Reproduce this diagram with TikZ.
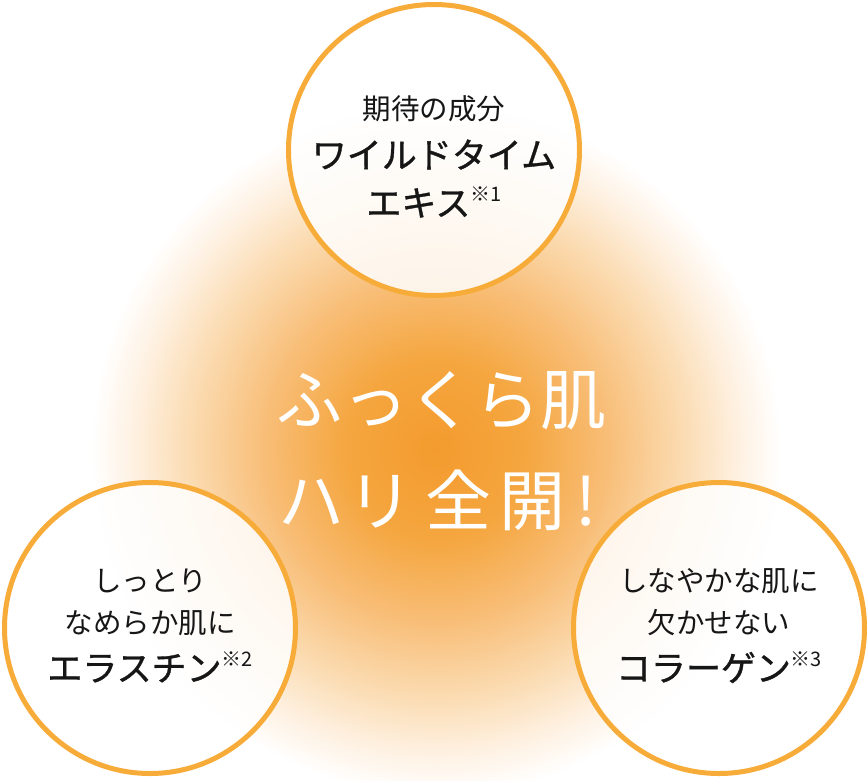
\documentclass[tikz,border=0pt]{standalone}
\usepackage{fontspec}
\setmainfont{Noto Sans CJK JP}
\newfontfamily\jpmid[FakeBold=1.0]{Noto Sans CJK JP}
\definecolor{ringc}{HTML}{F7AC3A}
\definecolor{ink}{HTML}{161616}
\definecolor{gA}{HTML}{F39B2E}
\definecolor{gB}{HTML}{F5A63F}
\definecolor{gC}{HTML}{F8BE78}
\definecolor{gD}{HTML}{FBDCB3}
\definecolor{gE}{HTML}{FEF1E2}
\pgfdeclareradialshading{glow}{\pgfpointorigin}{color(0bp)=(gA); color(6.5bp)=(gB); color(12.5bp)=(gC); color(18bp)=(gD); color(22bp)=(gE); color(25bp)=(white); color(50bp)=(white)}
\newcommand\nsup[1]{\raisebox{0.42em}{\normalfont\fontsize{20}{20}\selectfont #1}}
\tikzset{
  ringnode/.style={circle, draw=ringc, line width=5pt, fill=white, fill opacity=0.85, minimum size=291pt, inner sep=0pt},
  smalltxt/.style={anchor=base, text=ink, font=\fontsize{28.5}{28.5}\selectfont, inner sep=0pt},
  bigtxt/.style={anchor=base, text=ink, font=\jpmid\fontsize{35}{35}\selectfont, inner sep=0pt},
  ctext/.style={anchor=base, text=white, font=\fontsize{66}{66}\selectfont, inner sep=0pt}
}
\begin{document}
\begin{tikzpicture}[x=1pt,y=-1pt]
\useasboundingbox (0,0) rectangle (868,780);
\fill[white] (0,0) rectangle (868,780);
\shade[shading=glow] (436,450) circle (345pt);
% rings
\node[ringnode] (ctop) at (434,150) {};
\node[ringnode] (cleft) at (150,628) {};
\node[ringnode] (cright) at (719,628) {};
% top texts
\node[smalltxt] (t1) at (434,119) {期待の成分};
\node[bigtxt] (t2) at (434,168) {ワイルドタイム};
\node[bigtxt] (t3) at (434,216) {エキス\nsup{※1}};
% left texts
\node[smalltxt] (l1) at (150,591) {しっとり};
\node[smalltxt] (l2) at (150,633) {なめらか肌に};
\node[bigtxt] (l3) at (150,681) {エラスチン\nsup{※2}};
% right texts
\node[smalltxt] (r1) at (719,591) {しなやかな肌に};
\node[smalltxt] (r2) at (719,633) {欠かせない};
\node[bigtxt] (r3) at (719,681) {コラーゲン\nsup{※3}};
% central
\node[ctext] (m1) at (441,424) {ふっくら肌};
\node[ctext] (m2) at (438,525) {ハ\hspace{3pt}リ\hspace{12pt}全\hspace{8pt}開\hspace{10pt}!};
\end{tikzpicture}
\end{document}
